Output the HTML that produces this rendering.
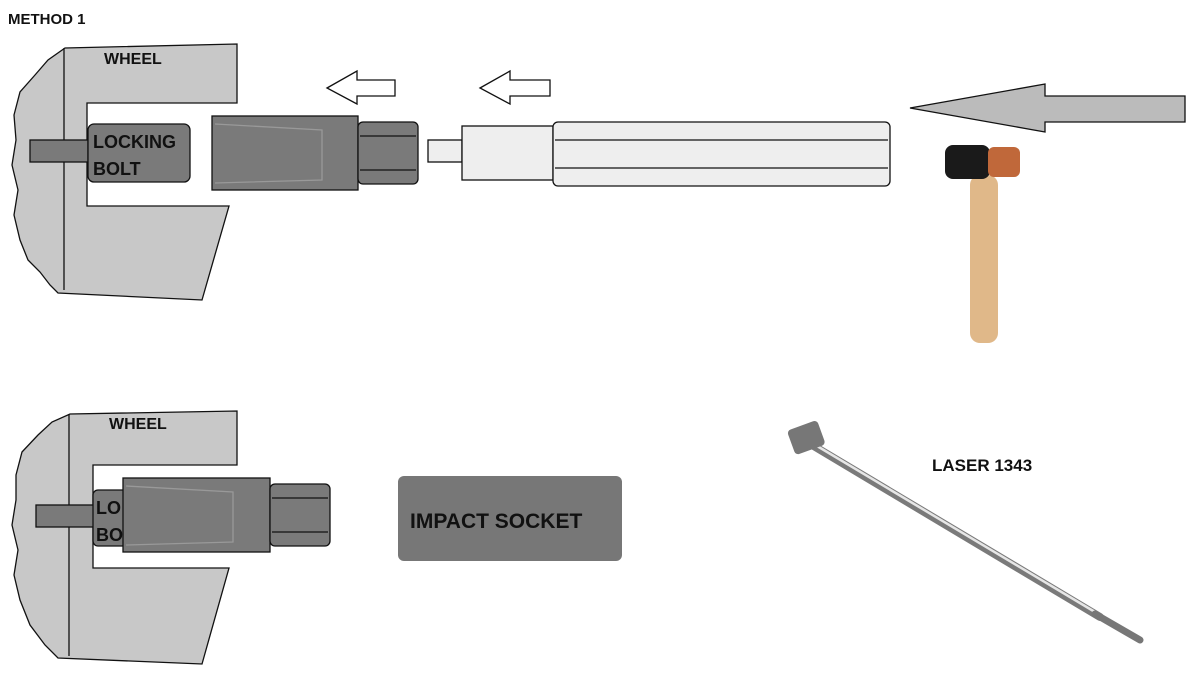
<!DOCTYPE html><html><head><style>body{margin:0;background:#fff}svg{display:block}text{font-family:"Liberation Sans",sans-serif;font-weight:bold;fill:#111}</style></head><body>
<svg width="1200" height="689" viewBox="0 0 1200 689">
<text x="8" y="24" font-size="15">METHOD 1</text>
<g stroke="#111" stroke-width="1.3">
<path d="M65,48 L237,44 L237,103 L87,103 L87,206 L229,206 L202,300 L58,293 L50,285 L40,272 L28,260 L20,240 L14,215 L18,190 L12,165 L16,140 L14,115 L20,92 L35,75 L48,60 Z" fill="#c8c8c8"/>
<line x1="64" y1="48" x2="64" y2="290"/>
<rect x="30" y="140" width="58" height="22" fill="#7a7a7a"/>
<rect x="88" y="124" width="102" height="58" rx="6" fill="#7a7a7a"/>
</g>
<text x="104" y="64" font-size="16">WHEEL</text>
<text x="93" y="148" font-size="18">LOCKING</text>
<text x="93" y="175" font-size="18">BOLT</text>
<g stroke="#111" stroke-width="1.3">
<rect x="212" y="116" width="146" height="74" fill="#7a7a7a"/>
<path d="M215,124 L322,130 L322,180 L215,183" fill="none" stroke="#999"/>
<rect x="358" y="122" width="60" height="62" rx="5" fill="#7a7a7a"/>
<line x1="360" y1="136" x2="416" y2="136"/><line x1="360" y1="170" x2="416" y2="170"/>
<rect x="428" y="140" width="34" height="22" fill="#eee"/>
<rect x="462" y="126" width="91" height="54" fill="#eee"/>
<rect x="553" y="122" width="337" height="64" rx="5" fill="#eee"/>
<line x1="555" y1="140" x2="888" y2="140"/><line x1="555" y1="168" x2="888" y2="168"/>
<path d="M327,88 L357,71 L357,80 L395,80 L395,96 L357,96 L357,104 Z" fill="#fff"/>
<path d="M480,88 L510,71 L510,80 L550,80 L550,96 L510,96 L510,104 Z" fill="#fff"/>
<path d="M910,108 L1045,84 L1045,96 L1185,96 L1185,122 L1045,122 L1045,132 Z" fill="#bbb"/>
</g>
<rect x="970" y="175" width="28" height="168" rx="10" fill="#e0b889"/>
<rect x="945" y="145" width="45" height="34" rx="8" fill="#1a1a1a"/>
<rect x="988" y="147" width="32" height="30" rx="6" fill="#c0683a"/>
<g stroke="#111" stroke-width="1.3">
<path d="M70,414 L237,411 L237,465 L93,465 L93,568 L229,568 L202,664 L58,658 L45,645 L30,625 L20,600 L14,575 L18,550 L12,525 L16,500 L16,475 L22,452 L38,435 L52,422 Z" fill="#c8c8c8"/>
<line x1="69" y1="414" x2="69" y2="656"/>
<rect x="36" y="505" width="59" height="22" fill="#7a7a7a"/>
<rect x="93" y="490" width="50" height="56" rx="5" fill="#7a7a7a"/>
<rect x="123" y="478" width="147" height="74" fill="#7a7a7a"/>
<path d="M126,486 L233,492 L233,542 L126,545" fill="none" stroke="#999"/>
<rect x="270" y="484" width="60" height="62" rx="5" fill="#7a7a7a"/>
<line x1="272" y1="498" x2="328" y2="498"/><line x1="272" y1="532" x2="328" y2="532"/>
</g>
<text x="109" y="429" font-size="16">WHEEL</text>
<text x="96" y="514" font-size="18">LO</text>
<text x="96" y="541" font-size="18">BO</text>
<rect x="398" y="476" width="224" height="85" rx="6" fill="#777"/>
<text x="410" y="528" font-size="21">IMPACT SOCKET</text>
<line x1="812" y1="445" x2="1100" y2="617" stroke="#7a7a7a" stroke-width="8" stroke-linecap="round"/>
<line x1="812" y1="443" x2="1100" y2="615" stroke="#e6e6e6" stroke-width="2.5"/>
<line x1="1095" y1="614" x2="1140" y2="640" stroke="#777" stroke-width="7" stroke-linecap="round"/>
<rect x="790" y="425" width="32" height="26" rx="4" fill="#777" transform="rotate(-20 805 437)"/>
<text x="932" y="471" font-size="17">LASER 1343</text>
</svg></body></html>
